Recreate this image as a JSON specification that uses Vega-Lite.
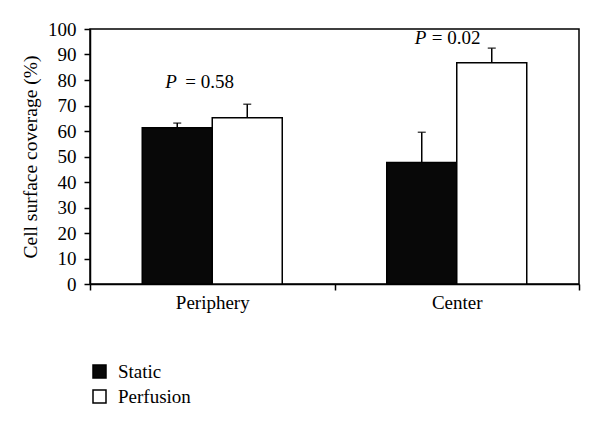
{
  "$schema": "https://vega.github.io/schema/vega-lite/v6.json",
  "width": 489,
  "height": 255,
  "autosize": {"type": "none"},
  "padding": {"left": 90, "top": 29, "right": 21, "bottom": 142},
  "background": "white",
  "config": {
    "font": "Liberation Serif",
    "view": {"stroke": "black", "strokeWidth": 1.5},
    "axis": {"domainColor": "black", "tickColor": "black", "labelColor": "black", "titleColor": "black", "domainWidth": 1.5, "tickWidth": 1.5, "grid": false, "labelFont": "Liberation Serif", "titleFont": "Liberation Serif", "labelFontSize": 19, "titleFontSize": 19.5, "titleFontWeight": "normal", "tickSize": 6, "labelOverlap": false},
    "legend": {"labelFont": "Liberation Serif", "labelFontSize": 19, "labelColor": "black"}
  },
  "datasets": {
    "bars": [
      {"region": "Periphery", "condition": "Static", "mean": 61.3, "upper": 63.1},
      {"region": "Periphery", "condition": "Perfusion", "mean": 65.2, "upper": 70.5},
      {"region": "Center", "condition": "Static", "mean": 47.6, "upper": 59.5},
      {"region": "Center", "condition": "Perfusion", "mean": 86.8, "upper": 92.5}
    ]
  },
  "encoding": {
    "x": {"field": "region", "type": "nominal", "sort": ["Periphery", "Center"], "scale": {"domain": ["Periphery", "Center"], "paddingInner": 0, "paddingOuter": 0}, "axis": {"title": null, "labelAngle": 0, "tickBand": "extent", "labelPadding": 3}}
  },
  "layer": [
    {
      "data": {"name": "bars"},
      "mark": {"type": "bar", "stroke": "black", "strokeWidth": 1.5},
      "encoding": {
        "xOffset": {"field": "condition", "type": "nominal", "sort": ["Static", "Perfusion"], "scale": {"domain": ["Static", "Perfusion"], "paddingInner": 0, "paddingOuter": 0.7464}},
        "y": {"field": "mean", "type": "quantitative", "scale": {"domain": [0, 100]}, "axis": {"title": "Cell surface coverage (%)", "values": [0,10,20,30,40,50,60,70,80,90,100], "labelPadding": 8, "titlePadding": 7}},
        "fill": {"field": "condition", "type": "nominal", "sort": ["Static", "Perfusion"], "scale": {"domain": ["Static", "Perfusion"], "range": ["#080808", "white"]}, "legend": {"title": null, "orient": "none", "legendX": 0, "legendY": 333, "symbolType": "square", "symbolSize": 169, "symbolStrokeColor": "black", "symbolStrokeWidth": 1.5, "symbolOpacity": 1, "rowPadding": 5, "labelOffset": 9}}
      }
    },
    {
      "data": {"name": "bars"},
      "mark": {"type": "rule", "color": "black", "strokeWidth": 1.5},
      "encoding": {
        "xOffset": {"field": "condition", "type": "nominal", "sort": ["Static", "Perfusion"]},
        "y": {"field": "mean", "type": "quantitative", "axis": {"title": "Cell surface coverage (%)", "values": [0,10,20,30,40,50,60,70,80,90,100], "labelPadding": 8, "titlePadding": 7}},
        "y2": {"field": "upper"}
      }
    },
    {
      "data": {"name": "bars"},
      "mark": {"type": "tick", "color": "black", "thickness": 1.5, "size": 8, "orient": "horizontal"},
      "encoding": {
        "xOffset": {"field": "condition", "type": "nominal", "sort": ["Static", "Perfusion"]},
        "y": {"field": "upper", "type": "quantitative", "axis": {"title": "Cell surface coverage (%)", "values": [0,10,20,30,40,50,60,70,80,90,100], "labelPadding": 8, "titlePadding": 7}}
      }
    },
    {
      "data": {"values": [{"region": "Periphery", "y": 77, "label": "P"}]},
      "mark": {"type": "text", "align": "left", "baseline": "alphabetic", "fontStyle": "italic", "fontSize": 19, "dx": -47, "color": "black"},
      "encoding": {"y": {"field": "y", "type": "quantitative", "axis": {"title": "Cell surface coverage (%)", "values": [0,10,20,30,40,50,60,70,80,90,100], "labelPadding": 8, "titlePadding": 7}}, "text": {"field": "label"}}
    },
    {
      "data": {"values": [{"region": "Periphery", "y": 77, "label": "= 0.58"}]},
      "mark": {"type": "text", "align": "left", "baseline": "alphabetic", "fontSize": 19, "dx": -27, "color": "black"},
      "encoding": {"y": {"field": "y", "type": "quantitative", "axis": {"title": "Cell surface coverage (%)", "values": [0,10,20,30,40,50,60,70,80,90,100], "labelPadding": 8, "titlePadding": 7}}, "text": {"field": "label"}}
    },
    {
      "data": {"values": [{"region": "Center", "y": 94, "label": "P"}]},
      "mark": {"type": "text", "align": "left", "baseline": "alphabetic", "fontStyle": "italic", "fontSize": 19, "dx": -42, "color": "black"},
      "encoding": {"y": {"field": "y", "type": "quantitative", "axis": {"title": "Cell surface coverage (%)", "values": [0,10,20,30,40,50,60,70,80,90,100], "labelPadding": 8, "titlePadding": 7}}, "text": {"field": "label"}}
    },
    {
      "data": {"values": [{"region": "Center", "y": 94, "label": "= 0.02"}]},
      "mark": {"type": "text", "align": "left", "baseline": "alphabetic", "fontSize": 19, "dx": -25, "color": "black"},
      "encoding": {"y": {"field": "y", "type": "quantitative", "axis": {"title": "Cell surface coverage (%)", "values": [0,10,20,30,40,50,60,70,80,90,100], "labelPadding": 8, "titlePadding": 7}}, "text": {"field": "label"}}
    }
  ]
}
